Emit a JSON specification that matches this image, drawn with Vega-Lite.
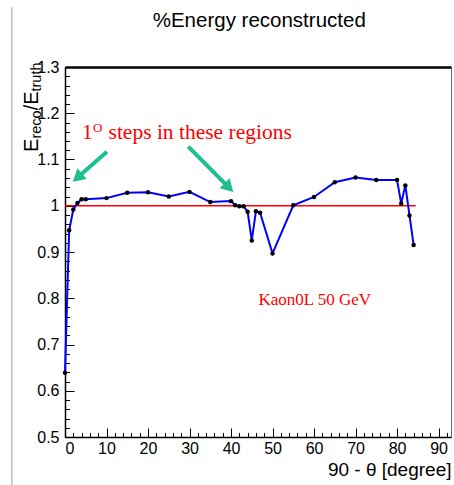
{
  "$schema": "https://vega.github.io/schema/vega-lite/v6.json",
  "width": 386,
  "height": 370,
  "autosize": {"type": "none"},
  "padding": {"left": 65, "top": 67, "right": 3, "bottom": 48},
  "background": "#ffffff",
  "config": {"view": {"stroke": "#666666", "strokeWidth": 1}, "axis": {"grid": false}},
  "datasets": {
    "curve": [
      {"angle": 0, "ratio": 0.639}, {"angle": 1, "ratio": 0.947}, {"angle": 2, "ratio": 0.992},
      {"angle": 3, "ratio": 1.006}, {"angle": 4, "ratio": 1.014}, {"angle": 5, "ratio": 1.014},
      {"angle": 10, "ratio": 1.0165}, {"angle": 15, "ratio": 1.028}, {"angle": 20, "ratio": 1.029},
      {"angle": 25, "ratio": 1.02}, {"angle": 30, "ratio": 1.03}, {"angle": 35, "ratio": 1.008},
      {"angle": 40, "ratio": 1.01}, {"angle": 41, "ratio": 1.001}, {"angle": 42, "ratio": 0.999},
      {"angle": 43, "ratio": 0.999}, {"angle": 44, "ratio": 0.987}, {"angle": 45, "ratio": 0.925},
      {"angle": 46, "ratio": 0.988}, {"angle": 47, "ratio": 0.985}, {"angle": 50, "ratio": 0.897},
      {"angle": 55, "ratio": 1.001}, {"angle": 60, "ratio": 1.019}, {"angle": 65, "ratio": 1.051},
      {"angle": 70, "ratio": 1.061}, {"angle": 75, "ratio": 1.0555}, {"angle": 80, "ratio": 1.0555},
      {"angle": 81, "ratio": 1.005}, {"angle": 82, "ratio": 1.044}, {"angle": 83, "ratio": 0.979},
      {"angle": 84, "ratio": 0.915}
    ],
    "arrows": [
      {"x": 10.1, "y": 1.117, "x2": 3.1, "y2": 1.0617},
      {"x": 29.7, "y": 1.128, "x2": 39.5, "y2": 1.0393}
    ]
  },
  "resolve": {"axis": {"x": "independent", "y": "independent"}},
  "layer": [
    {
      "data": {"values": [{"x": -12.8, "y": 1.429, "y2": 0.395}]},
      "mark": {"type": "rule", "color": "#999999", "strokeWidth": 1, "clip": false},
      "encoding": {
        "x": {"field": "x", "type": "quantitative", "axis": null},
        "y": {"field": "y", "type": "quantitative", "axis": null},
        "y2": {"field": "y2"}
      }
    },
    {
      "data": {"values": [{"x": 0, "x2": 84.5, "y": 1}]},
      "mark": {"type": "rule", "color": "#ff0000", "strokeWidth": 1.5},
      "encoding": {
        "x": {"field": "x", "type": "quantitative",
          "axis": {"orient": "top", "ticks": false, "labels": false, "domainColor": "#000", "domainWidth": 2.5, "title": null}},
        "x2": {"field": "x2"},
        "y": {"field": "y", "type": "quantitative", "axis": null}
      }
    },
    {
      "data": {"name": "curve"},
      "mark": {"type": "line", "color": "#0000ff", "strokeWidth": 2},
      "encoding": {
        "x": {"field": "angle", "type": "quantitative",
          "scale": {"domain": [0, 93], "nice": false, "zero": false},
          "axis": {"orient": "bottom", "values": [0, 10, 20, 30, 40, 50, 60, 70, 80, 90], "format": "d",
            "tickSize": -9, "tickColor": "#000", "tickWidth": 1, "domainColor": "#000", "domainWidth": 1.5,
            "labelFont": "Liberation Sans Narrow, Liberation Sans", "labelFontSize": 16, "labelColor": "#000", "labelPadding": 12,
            "title": "90 - θ [degree]", "titleFont": "Liberation Sans", "titleFontSize": 19, "titleFontWeight": "normal",
            "titleColor": "#000", "titleAnchor": "end", "titlePadding": 4}},
        "y": {"field": "ratio", "type": "quantitative",
          "scale": {"domain": [0.5, 1.3], "nice": false, "zero": false},
          "axis": {"orient": "left", "values": [0.5, 0.6, 0.7, 0.8, 0.9, 1.0, 1.1, 1.2, 1.3], "format": "~g",
            "tickSize": -9, "tickColor": "#000", "tickWidth": 1, "domainColor": "#000", "domainWidth": 1.5,
            "labelFont": "Liberation Sans Narrow, Liberation Sans", "labelFontSize": 16, "labelColor": "#000", "labelPadding": 15,
            "title": null}}
      }
    },
    {
      "data": {"name": "curve"},
      "mark": {"type": "point", "filled": true, "color": "#000", "size": 20, "opacity": 1},
      "encoding": {
        "x": {"field": "angle", "type": "quantitative",
          "axis": {"orient": "bottom", "values": [2, 4, 6, 8, 12, 14, 16, 18, 22, 24, 26, 28, 32, 34, 36, 38, 42, 44, 46, 48, 52, 54, 56, 58, 62, 64, 66, 68, 72, 74, 76, 78, 82, 84, 86, 88, 92],
            "tickSize": -4.5, "tickColor": "#000", "tickWidth": 1, "domain": false, "labels": false, "title": null}},
        "y": {"field": "ratio", "type": "quantitative",
          "axis": {"orient": "left", "values": [0.52, 0.54, 0.56, 0.58, 0.62, 0.64, 0.66, 0.68, 0.72, 0.74, 0.76, 0.78, 0.82, 0.84, 0.86, 0.88, 0.92, 0.94, 0.96, 0.98, 1.02, 1.04, 1.06, 1.08, 1.12, 1.14, 1.16, 1.18, 1.22, 1.24, 1.26, 1.28],
            "tickSize": -4.5, "tickColor": "#000", "tickWidth": 1, "domain": false, "labels": false, "title": null}}
      }
    },
    {
      "data": {"name": "arrows"},
      "mark": {"type": "rule", "color": "#1dbf8f", "strokeWidth": 4},
      "encoding": {
        "x": {"field": "x", "type": "quantitative", "axis": null},
        "y": {"field": "y", "type": "quantitative", "axis": null},
        "x2": {"field": "x2"},
        "y2": {"field": "y2"}
      }
    },
    {
      "data": {"values": [{"x": 3.0, "y": 1.0606}]},
      "mark": {"type": "point", "shape": "triangle-up", "filled": true, "color": "#1dbf8f", "opacity": 1, "size": 200, "angle": 228.6},
      "encoding": {
        "x": {"field": "x", "type": "quantitative", "axis": null},
        "y": {"field": "y", "type": "quantitative", "axis": null}
      }
    },
    {
      "data": {"values": [{"x": 39.5, "y": 1.0393}]},
      "mark": {"type": "point", "shape": "triangle-up", "filled": true, "color": "#1dbf8f", "opacity": 1, "size": 200, "angle": 135},
      "encoding": {
        "x": {"field": "x", "type": "quantitative", "axis": null},
        "y": {"field": "y", "type": "quantitative", "axis": null}
      }
    },
    {
      "data": {"values": [{"label": "%Energy reconstructed", "x": 46.8, "y": 1.387}]},
      "mark": {"type": "text", "font": "Liberation Sans", "fontSize": 20.5, "color": "#000", "align": "center", "baseline": "alphabetic", "clip": false},
      "encoding": {
        "x": {"field": "x", "type": "quantitative", "axis": null},
        "y": {"field": "y", "type": "quantitative", "axis": null},
        "text": {"field": "label"}
      }
    },
    {
      "data": {"values": [{"label": "1", "x": 4.1, "y": 1.145}]},
      "mark": {"type": "text", "font": "Liberation Serif", "fontSize": 21.5, "color": "#ff0000", "align": "left", "baseline": "alphabetic"},
      "encoding": {
        "x": {"field": "x", "type": "quantitative", "axis": null},
        "y": {"field": "y", "type": "quantitative", "axis": null},
        "text": {"field": "label"}
      }
    },
    {
      "data": {"values": [{"label": "O", "x": 4.1, "y": 1.145}]},
      "mark": {"type": "text", "font": "Liberation Serif", "fontSize": 13, "color": "#ff0000", "align": "left", "baseline": "alphabetic", "dx": 11, "dy": -7},
      "encoding": {
        "x": {"field": "x", "type": "quantitative", "axis": null},
        "y": {"field": "y", "type": "quantitative", "axis": null},
        "text": {"field": "label"}
      }
    },
    {
      "data": {"values": [{"label": "steps in these regions", "x": 4.1, "y": 1.145}]},
      "mark": {"type": "text", "font": "Liberation Serif", "fontSize": 21.5, "color": "#ff0000", "align": "left", "baseline": "alphabetic", "dx": 26.5},
      "encoding": {
        "x": {"field": "x", "type": "quantitative", "axis": null},
        "y": {"field": "y", "type": "quantitative", "axis": null},
        "text": {"field": "label"}
      }
    },
    {
      "data": {"values": [{"label": "Kaon0L 50 GeV", "x": 46.6, "y": 0.785}]},
      "mark": {"type": "text", "font": "Liberation Serif", "fontSize": 17, "color": "#ff0000", "align": "left", "baseline": "alphabetic"},
      "encoding": {
        "x": {"field": "x", "type": "quantitative", "axis": null},
        "y": {"field": "y", "type": "quantitative", "axis": null},
        "text": {"field": "label"}
      }
    },
    {
      "data": {"values": [{"label": "truth", "x": -6.5, "y": 1.3098}]},
      "mark": {"type": "text", "font": "Liberation Sans", "fontSize": 14.5, "color": "#000", "align": "right", "baseline": "alphabetic", "angle": 270, "dx": 0, "dy": 3},
      "encoding": {
        "x": {"field": "x", "type": "quantitative", "axis": null},
        "y": {"field": "y", "type": "quantitative", "axis": null},
        "text": {"field": "label"}
      }
    },
    {
      "data": {"values": [{"label": "/E", "x": -6.5, "y": 1.3098}]},
      "mark": {"type": "text", "font": "Liberation Sans", "fontSize": 20, "color": "#000", "align": "right", "baseline": "alphabetic", "angle": 270, "dx": -29, "dy": 0},
      "encoding": {
        "x": {"field": "x", "type": "quantitative", "axis": null},
        "y": {"field": "y", "type": "quantitative", "axis": null},
        "text": {"field": "label"}
      }
    },
    {
      "data": {"values": [{"label": "reco", "x": -6.5, "y": 1.3098}]},
      "mark": {"type": "text", "font": "Liberation Sans", "fontSize": 14.5, "color": "#000", "align": "right", "baseline": "alphabetic", "angle": 270, "dx": -47.9, "dy": 3},
      "encoding": {
        "x": {"field": "x", "type": "quantitative", "axis": null},
        "y": {"field": "y", "type": "quantitative", "axis": null},
        "text": {"field": "label"}
      }
    },
    {
      "data": {"values": [{"label": "E", "x": -6.5, "y": 1.3098}]},
      "mark": {"type": "text", "font": "Liberation Sans", "fontSize": 20, "color": "#000", "align": "right", "baseline": "alphabetic", "angle": 270, "dx": -76.1, "dy": 0},
      "encoding": {
        "x": {"field": "x", "type": "quantitative", "axis": null},
        "y": {"field": "y", "type": "quantitative", "axis": null},
        "text": {"field": "label"}
      }
    }
  ]
}
